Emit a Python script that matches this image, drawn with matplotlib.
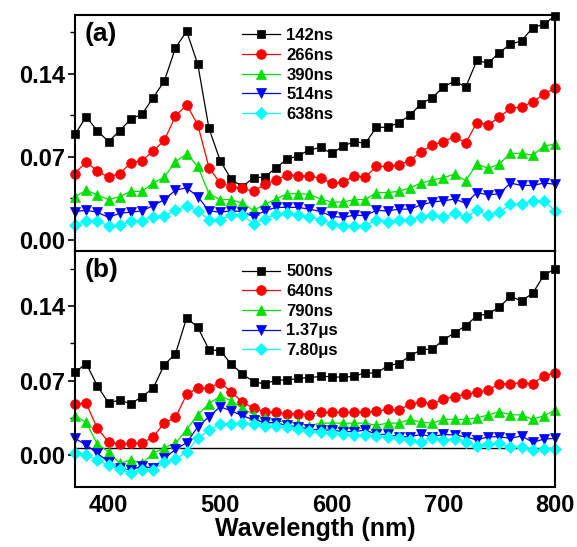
import numpy as np
import matplotlib
matplotlib.use("Agg")
import matplotlib.pyplot as plt
from matplotlib.ticker import MultipleLocator

plt.rcParams['font.family'] = ['Liberation Sans', 'DejaVu Sans']
plt.rcParams['font.weight'] = 'bold'

### data ###
wavelength = np.arange(370, 801, 10)

labels_a = ["142ns", "266ns", "390ns", "514ns", "638ns"]
a_142 = [0.089, 0.104, 0.092, 0.083, 0.092, 0.102, 0.106, 0.120, 0.134, 0.162,
         0.176, 0.148, 0.094, 0.067, 0.051, 0.045, 0.0525, 0.053, 0.061, 0.068,
         0.071, 0.076, 0.078, 0.073, 0.079, 0.083, 0.0815, 0.095, 0.095, 0.099,
         0.105, 0.115, 0.120, 0.129, 0.134, 0.129, 0.1515, 0.149, 0.158, 0.165,
         0.168, 0.179, 0.182, 0.189]
a_266 = [0.056, 0.066, 0.058, 0.053, 0.056, 0.065, 0.067, 0.075, 0.084, 0.1045,
         0.114, 0.097, 0.061, 0.048, 0.045, 0.0435, 0.041, 0.047, 0.0505, 0.055,
         0.054, 0.054, 0.052, 0.048, 0.0485, 0.054, 0.053, 0.062, 0.062, 0.063,
         0.067, 0.0745, 0.080, 0.083, 0.087, 0.082, 0.099, 0.097, 0.1035, 0.111,
         0.112, 0.1165, 0.123, 0.128]
a_390 = [0.0365, 0.042, 0.038, 0.034, 0.0365, 0.041, 0.041, 0.048, 0.053, 0.066,
         0.0725, 0.062, 0.039, 0.034, 0.034, 0.031, 0.025, 0.030, 0.0345, 0.039,
         0.039, 0.0385, 0.0345, 0.032, 0.032, 0.034, 0.034, 0.040, 0.040, 0.041,
         0.044, 0.048, 0.0505, 0.0525, 0.0555, 0.050, 0.064, 0.0605, 0.064, 0.073,
         0.073, 0.0715, 0.079, 0.081]
a_514 = [0.024, 0.025, 0.0235, 0.019, 0.0225, 0.0235, 0.0245, 0.029, 0.034, 0.042,
         0.044, 0.0365, 0.0245, 0.0235, 0.0245, 0.024, 0.0197, 0.0245, 0.0275, 0.0275,
         0.0275, 0.026, 0.024, 0.020, 0.019, 0.021, 0.0205, 0.025, 0.0245, 0.026,
         0.026, 0.0295, 0.032, 0.033, 0.0345, 0.031, 0.040, 0.038, 0.039, 0.048,
         0.046, 0.046, 0.048, 0.047]
a_638 = [0.0125, 0.016, 0.016, 0.012, 0.0125, 0.016, 0.016, 0.0197, 0.0205, 0.025,
         0.0285, 0.0245, 0.017, 0.017, 0.021, 0.021, 0.0135, 0.018, 0.0215, 0.0225,
         0.021, 0.0197, 0.017, 0.0135, 0.012, 0.012, 0.012, 0.017, 0.0155, 0.017,
         0.017, 0.019, 0.021, 0.019, 0.0225, 0.019, 0.025, 0.021, 0.0235, 0.030,
         0.030, 0.033, 0.033, 0.0245]

labels_b = ["500ns", "640ns", "790ns", "1.37\u03bcs", "7.80\u03bcs"]
b_500 = [0.0777, 0.086, 0.065, 0.049, 0.0517, 0.048, 0.055, 0.0627, 0.085, 0.095,
         0.129, 0.120, 0.099, 0.098, 0.0855, 0.076, 0.069, 0.0667, 0.0705, 0.0705,
         0.072, 0.0727, 0.074, 0.0736, 0.073, 0.074, 0.0774, 0.0768, 0.084, 0.086,
         0.093, 0.099, 0.0996, 0.108, 0.115, 0.1215, 0.131, 0.1325, 0.139, 0.149,
         0.145, 0.152, 0.169, 0.175]
b_640 = [0.0476, 0.0486, 0.025, 0.0125, 0.010, 0.011, 0.011, 0.0172, 0.030, 0.0354,
         0.057, 0.063, 0.063, 0.068, 0.0595, 0.0495, 0.044, 0.0407, 0.040, 0.039,
         0.039, 0.038, 0.040, 0.040, 0.040, 0.040, 0.0407, 0.041, 0.043, 0.042,
         0.048, 0.0495, 0.048, 0.0526, 0.055, 0.057, 0.059, 0.061, 0.067, 0.067,
         0.068, 0.067, 0.0745, 0.077]
b_790 = [0.037, 0.0307, 0.0103, 0.003, -0.0078, -0.0047, -0.0078, 0.0016, 0.0069, 0.011,
         0.024, 0.038, 0.048, 0.0555, 0.051, 0.044, 0.038, 0.0345, 0.032, 0.031,
         0.030, 0.0276, 0.030, 0.030, 0.030, 0.030, 0.030, 0.028, 0.030, 0.030,
         0.0335, 0.031, 0.030, 0.0335, 0.0335, 0.0335, 0.035, 0.0376, 0.0407, 0.038,
         0.0376, 0.0335, 0.037, 0.042]
b_1370 = [0.0157, 0.0094, 0.0016, -0.0063, -0.0125, -0.014, -0.0103, -0.0125, -0.003, 0.0053,
          0.0116, 0.0266, 0.036, 0.0454, 0.0414, 0.037, 0.033, 0.031, 0.030, 0.028,
          0.0266, 0.0244, 0.0235, 0.0235, 0.022, 0.022, 0.0235, 0.0194, 0.0194, 0.0172,
          0.0172, 0.0194, 0.0172, 0.0194, 0.0188, 0.0172, 0.0141, 0.0172, 0.0172, 0.0157,
          0.018, 0.012, 0.015, 0.0157]
b_7800 = [0.0016, 0.0, -0.0047, -0.0094, -0.0135, -0.0166, -0.014, -0.014, -0.0069, -0.004,
          0.003, 0.0157, 0.0235, 0.0289, 0.0289, 0.030, 0.0289, 0.0276, 0.0276, 0.026,
          0.0244, 0.0226, 0.0213, 0.0204, 0.0194, 0.0188, 0.0188, 0.018, 0.0172, 0.0157,
          0.0141, 0.0125, 0.0157, 0.0141, 0.015, 0.0125, 0.0088, 0.0103, 0.011, 0.0072,
          0.0078, 0.0047, 0.0056, 0.0056]

colors = ["black", "red", "#00e000", "blue", "cyan"]
markers = ["s", "o", "^", "v", "D"]
msizes = [6, 7, 7, 7, 6]

### figure ###
fig = plt.figure(figsize=(5.77, 5.47), dpi=100)
ax_a = fig.add_axes([0.130, 0.5411, 0.832, 0.4315])
ax_b = fig.add_axes([0.130, 0.1097, 0.832, 0.4314])

def draw_panel(ax, series, labels, tag):
    for y, lab, c, m, ms in zip(series, labels, colors, markers, msizes):
        ax.plot(wavelength, y, color=c, marker=m, markersize=ms, lw=0.9,
                markeredgewidth=0.5, markeredgecolor=c, label=lab, clip_on=False)
    ax.set_xlim(370, 800)
    ax.yaxis.set_major_locator(MultipleLocator(0.07))
    ax.yaxis.set_minor_locator(MultipleLocator(0.035))
    ax.xaxis.set_major_locator(MultipleLocator(100))
    ax.tick_params(axis='y', which='major', direction='out', length=5, width=1.2,
                   labelsize=17, pad=2)
    ax.tick_params(axis='y', which='minor', direction='out', length=3.5, width=1)
    ax.tick_params(axis='x', which='major', length=0, labelsize=17, pad=5)
    ax.yaxis.set_major_formatter(plt.FormatStrFormatter('%.2f'))
    for sp in ax.spines.values():
        sp.set_linewidth(1.5)
    ax.text(0.02, 0.97, tag, transform=ax.transAxes, fontsize=19,
            fontweight='bold', va='top', ha='left')
    leg = ax.legend(loc='upper left', bbox_to_anchor=(0.32, 1.0), frameon=False,
                    fontsize=12, handlelength=2.3, labelspacing=0.28,
                    handletextpad=0.35, borderpad=0.3)
    return leg

draw_panel(ax_a, [a_142, a_266, a_390, a_514, a_638], labels_a, "(a)")
ax_a.set_ylim(-0.0093, 0.1897)
ax_a.tick_params(axis='x', labelbottom=False)

draw_panel(ax_b, [b_500, b_640, b_790, b_1370, b_7800], labels_b, "(b)")
ax_b.set_ylim(-0.030, 0.1917)
ax_b.axhline(0.007, color='black', lw=1.0, zorder=0)
ax_b.set_xlabel("Wavelength (nm)", fontsize=18, fontweight='bold', labelpad=0)

fig.savefig("out.png", dpi=100)
